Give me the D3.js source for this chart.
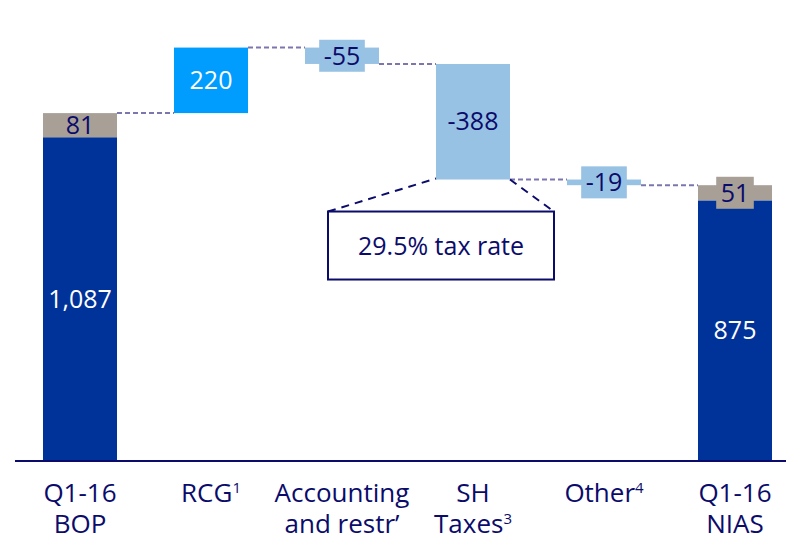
<!DOCTYPE html>
<html>
<head>
<meta charset="utf-8">
<script src="https://cdn.jsdelivr.net/npm/d3@7"></script>
<style>
  body { margin: 0; background: #fff; }
  text { font-family: "Open Sans", "Noto Sans", sans-serif; }
</style>
</head>
<body>
<div id="chart"></div>
<script>
// Chart data
const categories = ["BOP", "RCG", "Accounting", "SH Taxes", "Other", "NIAS"];
const tickLines = [["Q1-16", "BOP"], ["RCG^1"], ["Accounting", "and restr’"], ["SH", "Taxes^3"], ["Other^4"], ["Q1-16", "NIAS"]];
const totalBase = [1087, 875];      // dark blue part of the two total bars
const totalTop = [81, 51];          // grey part on top of the total bars
const changes = [220, -55, -388, -19];
const taxNote = "29.5% tax rate";

// Colours
const navy = "#0b0b6b";
const darkBlue = "#003399";
const brightBlue = "#009dff";
const lightBlue = "#98c2e3";
const grey = "#a8a097";
const connector = "#7b77ae";

const width = 786;
const height = 536;
const baseY = 461;

const svg = d3.select("#chart")
    .append("svg")
    .attr("width", width)
    .attr("height", height);

const x = d3.scaleBand()
    .domain(categories)
    .range([14.5, 800.5])
    .paddingInner(0.435)
    .paddingOuter(0.2175);

const y = d3.scaleLinear()
    .domain([0, 1400])
    .range([baseY, 44]);

// Build segments: start / end values for each bar piece
const segments = [];
segments.push({ cat: categories[0], from: 0, to: totalBase[0], fill: darkBlue, label: d3.format(",")(totalBase[0]), color: "#fff" });
segments.push({ cat: categories[0], from: totalBase[0], to: totalBase[0] + totalTop[0], fill: grey, label: String(totalTop[0]), color: navy });

let running = totalBase[0] + totalTop[0];
changes.forEach((v, i) => {
    const next = running + v;
    segments.push({
        cat: categories[i + 1], from: running, to: next,
        fill: v > 0 ? brightBlue : lightBlue,
        label: String(v), color: v > 0 ? "#fff" : navy
    });
    running = next;
});

segments.push({ cat: categories[5], from: 0, to: totalBase[1], fill: darkBlue, label: String(totalBase[1]), color: "#fff" });
segments.push({ cat: categories[5], from: totalBase[1], to: totalBase[1] + totalTop[1], fill: grey, label: String(totalTop[1]), color: navy });

// Connector levels between consecutive bars
const levels = [];
let level = totalBase[0] + totalTop[0];
levels.push(level);
changes.forEach(v => { level += v; levels.push(level); });

svg.selectAll(".connector")
    .data(levels)
    .enter()
    .append("line")
    .attr("class", "connector")
    .attr("x1", (d, i) => x(categories[i]) + x.bandwidth())
    .attr("x2", (d, i) => x(categories[i + 1]))
    .attr("y1", d => y(d))
    .attr("y2", d => y(d))
    .attr("stroke", connector)
    .attr("stroke-width", 2)
    .attr("stroke-dasharray", "5,3");

// Bars
svg.selectAll(".seg")
    .data(segments)
    .enter()
    .append("rect")
    .attr("class", "seg")
    .attr("x", d => x(d.cat))
    .attr("width", x.bandwidth())
    .attr("y", d => y(Math.max(d.from, d.to)))
    .attr("height", d => Math.abs(y(d.from) - y(d.to)))
    .attr("fill", d => d.fill);

// Value labels (thin segments get a label box in the bar colour)
const labels = svg.selectAll(".lbl")
    .data(segments)
    .enter()
    .append("g")
    .attr("class", "lbl")
    .attr("transform", d => `translate(${x(d.cat) + x.bandwidth() / 2},${(y(d.from) + y(d.to)) / 2})`);

labels.each(function(d) {
    const g = d3.select(this);
    const t = g.append("text")
        .attr("text-anchor", "middle")
        .attr("dy", "0.35em")
        .style("font-size", "25px")
        .attr("fill", d.color)
        .text(d.label);
    if (Math.abs(y(d.from) - y(d.to)) < 20) {
        const w = t.node().getComputedTextLength() + 9;
        g.insert("rect", "text")
            .attr("x", -w / 2)
            .attr("y", -16)
            .attr("width", w)
            .attr("height", 32)
            .attr("fill", d.fill);
    }
});

// Tax rate call-out under the SH Taxes bar
const shLeft = x(categories[3]);
const shRight = shLeft + x.bandwidth();
const shBottom = y(levels[3]);
const boxW = 226, boxH = 68;
const boxX = shLeft + x.bandwidth() / 2 - 32 - boxW / 2;
const boxY = shBottom + 32;

svg.append("line")
    .attr("x1", boxX).attr("y1", boxY)
    .attr("x2", shLeft).attr("y2", shBottom - 1)
    .attr("stroke", navy).attr("stroke-width", 2)
    .attr("stroke-dasharray", "8,6");

svg.append("line")
    .attr("x1", shRight).attr("y1", shBottom)
    .attr("x2", boxX + boxW).attr("y2", boxY)
    .attr("stroke", navy).attr("stroke-width", 2)
    .attr("stroke-dasharray", "8,6");

svg.append("rect")
    .attr("x", boxX).attr("y", boxY)
    .attr("width", boxW).attr("height", boxH)
    .attr("fill", "#fff")
    .attr("stroke", navy)
    .attr("stroke-width", 2);

svg.append("text")
    .attr("x", boxX + boxW / 2)
    .attr("y", boxY + 43)
    .attr("text-anchor", "middle")
    .style("font-size", "25px")
    .attr("fill", navy)
    .text(taxNote);

// Baseline
svg.append("line")
    .attr("x1", 15).attr("x2", width)
    .attr("y1", baseY).attr("y2", baseY)
    .attr("stroke", navy)
    .attr("stroke-width", 2);

// Category labels
const ticks = svg.selectAll(".tick")
    .data(categories)
    .enter()
    .append("text")
    .attr("class", "tick")
    .attr("text-anchor", "middle")
    .style("font-size", "26px")
    .attr("fill", navy);

ticks.each(function(d, i) {
    const t = d3.select(this);
    tickLines[i].forEach((line, j) => {
        const parts = line.split("^");
        t.append("tspan")
            .attr("x", x(d) + x.bandwidth() / 2)
            .attr("y", 502 + j * 31)
            .text(parts[0]);
        if (parts[1]) {
            t.append("tspan")
                .attr("dy", -9)
                .style("font-size", "15px")
                .text(parts[1]);
        }
    });
});
</script>
</body>
</html>
